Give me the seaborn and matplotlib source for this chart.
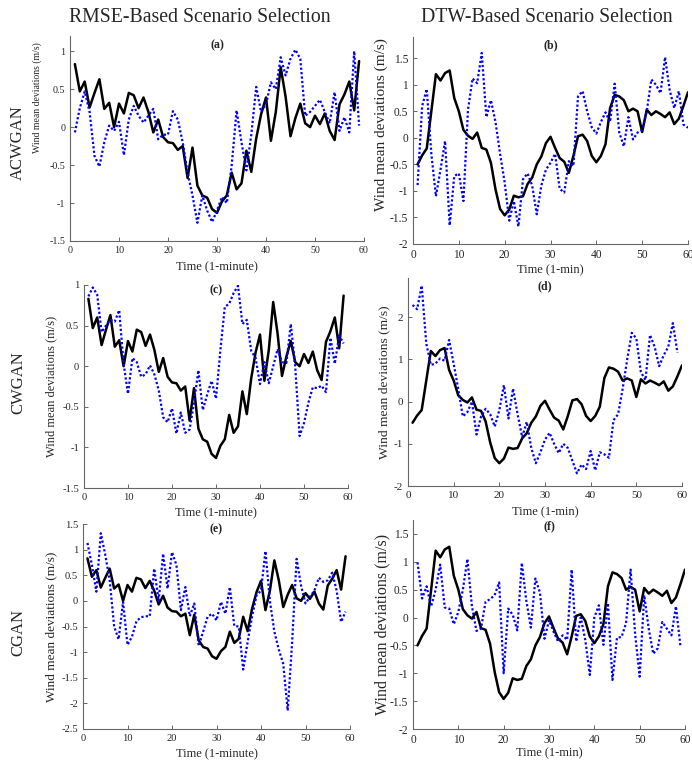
import numpy as np
import pandas as pd
import matplotlib
matplotlib.use("Agg")
import matplotlib.pyplot as plt
import seaborn as sns

# time axis (minutes)
minutes = np.arange(1, 61)

# black reference traces
rmse_actual = [0.83, 0.47, 0.60, 0.26, 0.45, 0.63, 0.24, 0.32, 0.00, 0.31,
               0.18, 0.45, 0.42, 0.25, 0.39, 0.20, -0.07, 0.10, -0.13, -0.20,
               -0.21, -0.30, -0.25, -0.67, -0.27, -0.77, -0.90, -0.93, -1.08, -1.13,
               -0.98, -0.90, -0.60, -0.82, -0.74, -0.31, -0.59, -0.15, 0.17, 0.39,
               -0.18, 0.20, 0.79, 0.40, -0.12, 0.12, 0.31, 0.05, 0.00, 0.15,
               0.04, 0.18, -0.05, -0.17, 0.30, 0.43, 0.60, 0.22, 0.87]
dtw_actual = [-0.50, -0.33, -0.20, 0.50, 1.20, 1.08, 1.22, 1.27, 0.75, 0.50,
              0.15, 0.04, -0.02, 0.10, -0.19, -0.22, -0.47, -0.97, -1.34, -1.46,
              -1.35, -1.09, -1.12, -1.10, -0.87, -0.75, -0.50, -0.35, -0.10, 0.02,
              -0.19, -0.38, -0.45, -0.66, -0.34, 0.03, 0.06, -0.06, -0.34, -0.46,
              -0.34, -0.12, 0.56, 0.81, 0.78, 0.71, 0.50, 0.55, 0.50, 0.11,
              0.53, 0.43, 0.50, 0.45, 0.39, 0.48, 0.26, 0.36, 0.60, 0.86]

# blue selected scenarios
acwgan_rmse = [-0.07, 0.25, 0.47, 0.20, -0.38, -0.52, -0.20, 0.02, -0.05, 0.07,
               -0.37, 0.10, 0.28, 0.15, 0.06, 0.15, 0.24, -0.16, -0.10, -0.10,
               0.21, 0.10, -0.20, -0.60, -0.90, -1.26, -0.90, -1.10, -1.25, -1.10,
               -0.92, -1.00, -0.50, 0.22, -0.20, -0.57, -0.10, 0.53, 0.20, 0.30,
               0.59, 0.50, 0.92, 0.68, 0.90, 1.02, 0.90, 0.15, 0.20, 0.28,
               0.36, 0.20, 0.05, 0.46, -0.05, 0.13, -0.07, 1.00, 0.02]
acwgan_dtw = [-0.89, 0.60, 0.92, -0.30, -1.10, -0.60, -0.06, -1.65, -0.72, -0.67,
              -1.19, 0.53, 1.12, 1.03, 1.60, 0.39, 0.71, 0.30, -0.30, -0.84,
              -1.56, -1.19, -1.67, -0.78, -0.67, -0.90, -1.44, -0.90, -0.60, -0.47,
              -0.30, -0.96, -1.03, -0.44, -0.53, 0.78, 0.88, 0.50, 0.20, 0.08,
              0.30, 0.48, 0.30, 1.02, 0.10, -0.16, 0.39, -0.03, 0.10, 0.15,
              0.50, 1.10, 1.00, 0.84, 1.52, 0.90, 0.56, 0.88, 0.25, 0.19]
cwgan_rmse = [0.86, 0.97, 0.88, 0.42, 0.50, 0.57, 0.55, 0.69, 0.03, -0.34,
              0.10, 0.05, -0.13, -0.10, 0.01, -0.10, -0.30, -0.63, -0.69, -0.52,
              -0.83, -0.57, -0.82, -0.78, -0.45, -0.05, -0.54, -0.35, -0.18, -0.40,
              0.20, 0.73, 0.77, 0.90, 0.99, 0.52, 0.57, 0.19, 0.10, -0.22,
              0.05, -0.21, 0.00, 0.21, 0.05, 0.04, 0.52, 0.00, -0.86, -0.70,
              -0.45, -0.26, -0.27, -0.24, -0.32, 0.35, 0.03, 0.38, 0.28]
cwgan_dtw = [2.29, 2.19, 2.75, 1.38, 0.87, 0.90, 1.02, 0.97, 1.46, 0.90,
             0.30, -0.35, -0.25, 0.00, -0.78, -0.35, -0.17, -0.30, -0.59, -0.20,
             0.39, -0.40, 0.31, -0.30, -0.84, -0.48, -1.10, -1.46, -1.20, -0.90,
             -0.74, -1.00, -1.22, -1.00, -1.10, -1.40, -1.70, -1.49, -1.60, -1.17,
             -1.63, -1.20, -1.25, -1.33, -0.44, -0.30, 0.30, 1.00, 1.63, 1.50,
             0.70, 0.51, 1.58, 1.30, 0.84, 1.10, 1.30, 1.86, 1.16]
cgan_rmse = [1.13, 0.70, 0.18, 1.32, 0.90, 0.40, -0.50, -0.75, -0.02, -0.86,
             -0.70, -0.40, -0.32, -0.30, -0.30, 0.63, 0.00, 0.92, 0.24, 0.95,
             0.70, -0.18, 0.27, -0.30, -0.05, -0.88, -0.60, -0.31, -0.25, -0.38,
             -0.02, -0.25, 0.27, -0.49, -0.50, -1.34, -0.80, -0.30, 0.11, 0.20,
             0.97, 0.00, -0.60, -0.95, -1.23, -2.14, -0.80, 0.82, 0.30, -0.05,
             0.08, 0.20, 0.45, 0.37, 0.40, 0.55, 0.20, -0.41, -0.21]
cgan_dtw = [0.99, 0.34, 0.56, 0.20, 0.50, 0.95, 0.18, 0.16, -0.12, 0.10,
            0.50, 1.05, 0.20, -0.24, -0.20, 0.28, 0.33, 0.40, 0.63, -1.00,
            0.16, 0.05, -0.23, 0.98, 0.30, -0.18, 0.70, 0.45, -0.38, -0.05,
            -0.25, -0.43, -0.32, -0.40, 0.86, -0.43, 0.00, -0.40, -1.03, 0.00,
            0.22, -0.49, 0.26, -1.12, -0.36, -0.35, -0.10, 0.86, -0.30, -1.06,
            0.40, -0.20, -0.65, -0.55, -0.08, -0.20, -0.32, 0.20, -0.52]

col_titles = ["RMSE-Based Scenario Selection", "DTW-Based Scenario Selection"]
row_titles = ["ACWGAN", "CWGAN", "CGAN"]
ylab = "Wind mean deviations (m/s)"

sns.set_style("ticks")
plt.rcParams["font.family"] = ["Liberation Serif", "DejaVu Serif"]
plt.rcParams["axes.unicode_minus"] = False

W, H = 692, 762
fig = plt.figure(figsize=(W / 100, H / 100), dpi=100)


def box(l, t, r, b):
    return [l / W, 1 - b / H, (r - l) / W, (b - t) / H]


# (tag, blue, black, pixel box, ylim, yticks, xlabel, tick size,
#  ylabel size, ylabel offset px, ylabel centre frac, title y, xlabel y)
panels = [
    ("(a)", acwgan_rmse, rmse_actual, (70, 36, 364, 241), (-1.5, 1.2), np.arange(-1.5, 1.01, 0.5),
     "Time (1-minute)", 7.2, 7, 28, 0.70, 0.955, -0.10),
    ("(b)", acwgan_dtw, dtw_actual, (413, 37, 688, 244), (-2, 1.9), np.arange(-2, 1.51, 0.5),
     "Time (1-min)", 8.3, 11, 25, 0.577, 0.96, -0.10),
    ("(c)", cwgan_rmse, rmse_actual, (84, 285, 348, 488), (-1.5, 1.0), np.arange(-1.5, 1.01, 0.5),
     "Time (1-minute)", 7.6, 9, 27, 0.5, 0.975, -0.094),
    ("(d)", cwgan_dtw, dtw_actual, (408, 278, 682, 486), (-2, 2.93), np.arange(-2, 2.01, 1),
     "Time (1-min)", 8.0, 9.7, 18, 0.5, 0.96, -0.096),
    ("(e)", cgan_rmse, rmse_actual, (83, 524, 350, 729), (-2.5, 1.5), np.arange(-2.5, 1.51, 0.5),
     "Time (1-minute)", 7.6, 9.5, 26, 0.5, 0.975, -0.093),
    ("(f)", cgan_dtw, dtw_actual, (413, 520, 685, 729), (-2, 1.75), np.arange(-2, 1.51, 0.5),
     "Time (1-min)", 8.3, 11.5, 23, 0.5, 0.97, -0.086),
]

for tag, blue, black, px, ylim, yt, xl, tsz, ysz, yoff, yc, ty, xly in panels:
    ax = fig.add_axes(box(*px))
    sns.lineplot(x=minutes[:len(black)], y=black, ax=ax, color="black", linewidth=1.8)
    sns.lineplot(x=minutes[:len(blue)], y=blue, ax=ax, color="#0000ff", linewidth=1.6,
                 linestyle=(0, (1, 1)))
    ax.set_xlim(0, 60)
    ax.set_ylim(*ylim)
    ax.set_xticks(range(0, 61, 10))
    ax.set_yticks(yt)
    ax.set_yticklabels([f"{v:g}" for v in yt])
    sns.despine(ax=ax)
    for s in ("left", "bottom"):
        ax.spines[s].set_color("0.4")
        ax.spines[s].set_linewidth(0.8)
    ax.tick_params(direction="in", length=3, width=0.7, color="0.4",
                   labelsize=tsz, labelcolor="0.15")
    ax.set_xlabel(xl, fontsize=9, color="0.15")
    ax.xaxis.set_label_coords(0.5, xly)
    ax.set_ylabel(ylab, fontsize=ysz, color="0.15")
    ax.yaxis.set_label_coords(-yoff / (px[2] - px[0]), yc)
    ax.text(0.5, ty, tag, transform=ax.transAxes, ha="center", va="center",
            fontsize=8.5, fontweight="bold")

fig.text(200 / W, 1 - 17 / H, col_titles[0], ha="center", va="center", fontsize=14.2)
fig.text(547 / W, 1 - 17 / H, col_titles[1], ha="center", va="center", fontsize=14.2)
for name, yc in zip(row_titles, (143, 383, 633)):
    fig.text(18 / W, 1 - yc / H, name, rotation=90, ha="center", va="center", fontsize=12)

fig.savefig("out.png", dpi=100)
